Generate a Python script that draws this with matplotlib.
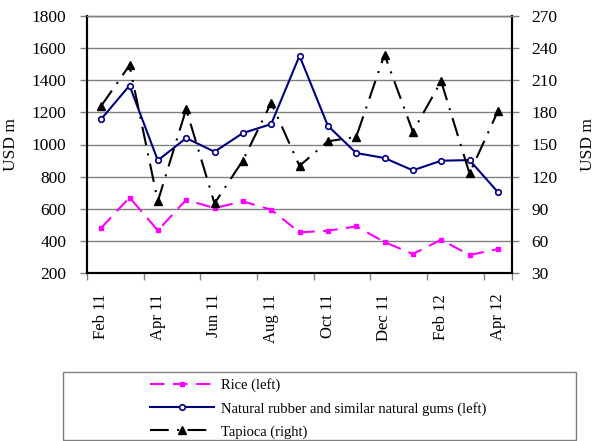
import numpy as np
import matplotlib
matplotlib.use('Agg')
import matplotlib.pyplot as plt
from matplotlib.patches import Rectangle

plt.rcParams['font.family'] = ['Liberation Serif', 'DejaVu Serif']

months = ['Feb 11', 'Mar 11', 'Apr 11', 'May 11', 'Jun 11', 'Jul 11', 'Aug 11', 'Sep 11',
          'Oct 11', 'Nov 11', 'Dec 11', 'Jan 12', 'Feb 12', 'Mar 12', 'Apr 12']
rice    = [480, 670, 465, 656, 604, 646, 594, 453, 463, 490, 393, 318, 407, 312, 349]
rubber  = [1158, 1367, 901, 1040, 955, 1071, 1127, 1552, 1117, 947, 916, 839, 899, 903, 704]
tapioca = [186, 224, 97, 183, 95, 135, 189, 130, 153, 157, 234, 162, 209, 123, 181]

x = np.arange(len(months))

fig = plt.figure(figsize=(5.98, 4.41), dpi=100)
ax = fig.add_axes([87/598, 1-273/441, 425/598, 257/441])
ax2 = ax.twinx()

ax.plot(x, rice, color='#ff00ff', lw=1.5, linestyle=(0, (7, 4)),
        marker='s', markersize=3.5, label='Rice (left)', zorder=3)
ax.plot(x, rubber, color='#000080', lw=1.5, marker='o', markersize=4,
        markerfacecolor='white', markeredgewidth=1.2,
        label='Natural rubber and similar natural gums (left)', zorder=3)
ax2.plot(x, tapioca, color='black', lw=1.5, linestyle=(0, (9, 4, 1, 4)),
         marker='^', markersize=6, label='Tapioca (right)')

ax.set_xlim(-0.5, len(months) - 0.5)
ax.set_ylim(200, 1800)
ax.set_yticks(np.arange(200, 1801, 200))
ax2.set_ylim(30, 270)
ax2.set_yticks(np.arange(30, 271, 30))

ax.yaxis.grid(True, color='#808080', lw=1)
ax.set_axisbelow(True)

ax.set_xticks(x[::2])
ax.set_xticklabels(months[::2], rotation=90)
ax.set_xticks(list(np.arange(-0.5, len(months), 2)) + [len(months) - 0.5], minor=True)
ax.tick_params(axis='x', which='major', length=0, pad=15, labelsize=12)
ax.tick_params(axis='x', which='minor', length=5, width=1, color='#808080')
ax.tick_params(axis='y', length=5, width=1, pad=10, labelsize=12.5, color='#808080')
ax2.tick_params(axis='y', length=5, width=1, pad=9, labelsize=12.5, color='#808080')

for a in (ax, ax2):
    a.spines['top'].set_color('#808080')
    a.spines['top'].set_linewidth(1)
    for s in ('left', 'right', 'bottom'):
        a.spines[s].set_linewidth(1.5)
        a.spines[s].set_color('black')

ax.set_ylabel('USD m', fontsize=12.5)
ax.yaxis.set_label_coords(-0.160, 0.5)
ax2.set_ylabel('USD m', fontsize=12.5)
ax2.yaxis.set_label_coords(1.16, 0.5)

# legend box
fig.patches.append(Rectangle((63/598, 1-440/441), 513/598, 68/441, transform=fig.transFigure,
                             fill=False, edgecolor='#808080', lw=1))
h1, l1 = ax.get_legend_handles_labels()
h2, l2 = ax2.get_legend_handles_labels()
fig.legend(h1 + h2, l1 + l2, loc='upper left', bbox_to_anchor=(150/598, 1-378/441),
           frameon=False, fontsize=10.5, handlelength=4.4, labelspacing=0.66,
           handletextpad=0.5, borderaxespad=0, borderpad=0)

fig.savefig('out.png', dpi=100)
